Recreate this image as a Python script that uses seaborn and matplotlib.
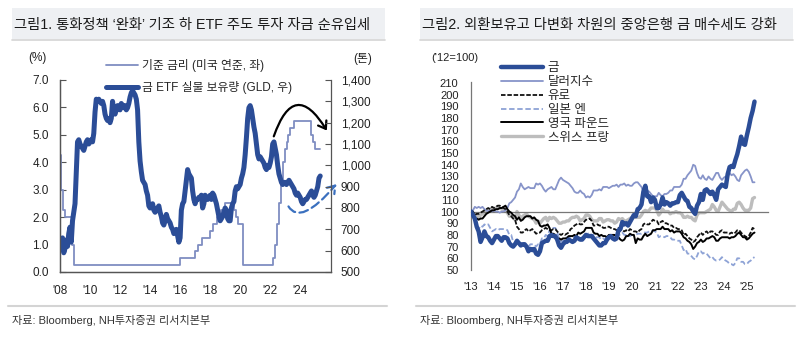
import numpy as np
import pandas as pd
import matplotlib
matplotlib.use("Agg")
import matplotlib.pyplot as plt
import seaborn as sns
from matplotlib.patches import FancyArrowPatch, Rectangle
from matplotlib.lines import Line2D
from matplotlib.ticker import FuncFormatter

sns.set_style("white")
plt.rcParams["font.family"] = ["Liberation Sans", "Noto Sans CJK KR", "DejaVu Sans"]

# ---------------- data: chart 1 ----------------
fed_dates = [2008.0, 2008.06, 2008.08, 2008.21, 2008.33, 2008.77, 2008.83, 2008.96,
             2015.96, 2016.96, 2017.21, 2017.46, 2017.96, 2018.21, 2018.46, 2018.74,
             2018.96, 2019.58, 2019.71, 2019.83, 2020.17, 2020.21, 2022.21, 2022.34,
             2022.46, 2022.57, 2022.72, 2022.84, 2022.96, 2023.09, 2023.21, 2023.34,
             2023.57, 2024.72, 2024.85, 2024.96, 2025.33]
fed_rate = [4.25, 3.5, 3.0, 2.25, 2.0, 1.5, 1.0, 0.25,
            0.5, 0.75, 1.0, 1.25, 1.5, 1.75, 2.0, 2.25,
            2.5, 2.25, 2.0, 1.75, 1.25, 0.25, 0.5, 1.0,
            1.75, 2.5, 3.25, 4.0, 4.5, 4.75, 5.0, 5.25,
            5.5, 5.0, 4.75, 4.5, 4.5]

gld_tonnes = [
    640, 610, 660, 590, 610, 650, 620, 680, 710, 640, 740, 780,        # 2008
    820, 960, 1110, 1120, 1100, 1090, 1080, 1070, 1090, 1110, 1120, 1100,  # 2009
    1110, 1120, 1110, 1150, 1250, 1310, 1300, 1310, 1300, 1290, 1300, 1280,  # 2010
    1240, 1220, 1210, 1220, 1200, 1220, 1300, 1250, 1240, 1260, 1280, 1270,  # 2011
    1260, 1290, 1280, 1270, 1280, 1260, 1270, 1290, 1320, 1340, 1350, 1340,  # 2012
    1330, 1310, 1260, 1110, 1020, 970, 930, 920, 910, 880, 860, 810,   # 2013
    800, 810, 820, 790, 780, 790, 800, 810, 780, 760, 730, 720,        # 2014
    740, 770, 750, 740, 730, 710, 700, 680, 690, 700, 670, 640,        # 2015
    660, 790, 820, 830, 880, 930, 980, 960, 950, 940, 880, 840,        # 2016
    820, 840, 840, 850, 850, 860, 800, 820, 860, 850, 840, 850,        # 2017
    860, 840, 870, 860, 840, 820, 790, 760, 740, 750, 760, 780,        # 2018
    800, 790, 750, 740, 740, 800, 820, 830, 880, 900, 890, 900,        # 2019
    910, 940, 960, 990, 1050, 1130, 1220, 1270, 1280, 1260, 1220, 1180,  # 2020
    1150, 1100, 1050, 1030, 1040, 1030, 1020, 1010, 990, 980, 1000, 990,  # 2021
    1010, 1040, 1100, 1110, 1080, 1050, 1000, 960, 940, 920, 910, 920,   # 2022
    920, 910, 920, 930, 920, 910, 900, 890, 870, 860, 870, 860,        # 2023
    850, 830, 820, 830, 840, 840, 850, 860, 870, 880, 860, 850,        # 2024
    860, 880, 900, 940, 950,                                           # 2025
]
gld_years = 2008 + np.arange(len(gld_tonnes)) / 12

c1_xticks = [2008, 2010, 2012, 2014, 2016, 2018, 2020, 2022, 2024]
c1_xlabels = ["'08", "'10", "'12", "'14", "'16", "'18", "'20", "'22", "'24"]
c1_label_rate = "기준 금리 (미국 연준, 좌)"
c1_label_gld = "금 ETF 실물 보유량 (GLD, 우)"

# ---------------- data: chart 2 ('12=100) ----------------
idx_gold = [
    100, 97, 94, 87, 83, 74, 78, 83, 79, 78, 75, 73,
    76, 79, 79, 77, 75, 78, 78, 77, 73, 71, 70, 72,
    75, 73, 71, 72, 72, 70, 66, 68, 67, 68, 64, 63,
    66, 73, 74, 75, 75, 79, 80, 79, 79, 76, 71, 69,
    72, 74, 74, 76, 75, 74, 75, 78, 77, 76, 76, 78,
    80, 79, 79, 79, 77, 75, 73, 71, 71, 73, 73, 76,
    78, 79, 77, 76, 77, 84, 85, 91, 89, 90, 88, 91,
    94, 97, 96, 102, 103, 106, 117, 122, 113, 113, 108, 112,
    110, 103, 103, 106, 112, 106, 108, 107, 105, 107, 107, 108,
    108, 114, 116, 113, 110, 109, 104, 103, 100, 98, 105, 108,
    115, 110, 118, 119, 117, 115, 117, 114, 110, 119, 121, 123,
    122, 121, 132, 138, 139, 138, 144, 149, 156, 164, 158, 157,
    165, 172, 180, 186, 194,
]
idx_dollar = [
    100, 101, 104, 103, 104, 103, 104, 102, 101, 100, 101, 100,
    101, 100, 100, 99, 100, 100, 101, 103, 107, 108, 110, 112,
    117, 119, 124, 121, 119, 120, 121, 120, 120, 120, 124, 123,
    124, 122, 119, 117, 119, 120, 121, 119, 119, 123, 127, 129,
    127, 126, 125, 124, 122, 120, 117, 116, 116, 118, 116, 115,
    112, 113, 112, 114, 118, 118, 118, 119, 118, 121, 121, 121,
    120, 121, 122, 122, 123, 121, 123, 123, 124, 122, 123, 122,
    122, 124, 125, 125, 123, 121, 117, 116, 118, 117, 115, 113,
    113, 113, 116, 114, 113, 115, 115, 116, 118, 118, 121, 121,
    121, 121, 123, 128, 128, 131, 133, 135, 140, 139, 133, 129,
    128, 131, 128, 127, 130, 128, 127, 130, 133, 133, 129, 127,
    129, 130, 130, 133, 131, 132, 130, 127, 126, 131, 133, 135,
    136, 134, 130, 125, 125,
]
idx_euro = [
    100, 100, 97, 98, 98, 99, 100, 101, 102, 103, 102, 104,
    103, 104, 105, 105, 104, 103, 102, 100, 97, 96, 94, 93,
    87, 85, 82, 82, 84, 85, 83, 84, 85, 83, 81, 82,
    82, 84, 85, 86, 85, 84, 84, 85, 85, 83, 81, 80,
    81, 80, 81, 82, 85, 86, 88, 89, 90, 89, 89, 91,
    93, 93, 94, 92, 88, 88, 89, 88, 88, 86, 86, 87,
    87, 86, 85, 85, 84, 86, 84, 84, 83, 84, 83, 85,
    84, 83, 83, 82, 84, 85, 89, 90, 89, 89, 91, 93,
    92, 92, 89, 91, 92, 90, 90, 89, 88, 88, 86, 86,
    85, 85, 84, 80, 81, 79, 77, 76, 74, 75, 78, 80,
    82, 80, 82, 83, 81, 83, 83, 82, 80, 80, 83, 84,
    82, 82, 82, 81, 82, 81, 82, 84, 84, 82, 80, 79,
    78, 79, 82, 86, 85,
]
idx_yen = [
    100, 94, 92, 88, 85, 88, 87, 89, 88, 89, 86, 83,
    84, 85, 84, 85, 85, 85, 85, 84, 80, 80, 74, 73,
    73, 73, 72, 72, 70, 70, 70, 72, 72, 72, 70, 72,
    72, 77, 77, 80, 79, 84, 83, 86, 86, 83, 76, 74,
    76, 77, 78, 78, 78, 77, 78, 79, 77, 76, 78, 77,
    80, 81, 82, 79, 80, 78, 78, 78, 76, 77, 76, 79,
    79, 78, 78, 78, 80, 80, 80, 82, 80, 80, 79, 79,
    80, 80, 80, 81, 81, 81, 82, 82, 82, 83, 83, 84,
    83, 82, 78, 79, 79, 78, 79, 79, 78, 76, 76, 75,
    75, 75, 71, 67, 68, 64, 64, 62, 60, 59, 62, 66,
    66, 64, 65, 64, 62, 60, 61, 59, 58, 58, 59, 61,
    59, 58, 57, 55, 55, 54, 56, 60, 60, 57, 57, 55,
    55, 57, 58, 60, 61,
]
idx_pound = [
    100, 96, 93, 94, 93, 94, 94, 96, 98, 99, 100, 101,
    101, 102, 102, 103, 103, 104, 105, 102, 100, 99, 97, 96,
    93, 95, 92, 93, 95, 96, 96, 96, 94, 95, 93, 92,
    88, 87, 88, 88, 89, 86, 81, 81, 80, 75, 77, 76,
    77, 77, 77, 79, 79, 79, 80, 79, 82, 81, 82, 83,
    86, 86, 86, 86, 82, 81, 81, 79, 80, 79, 79, 78,
    80, 80, 80, 80, 78, 78, 76, 75, 76, 79, 79, 81,
    80, 80, 73, 77, 76, 76, 79, 81, 79, 80, 81, 84,
    84, 85, 85, 85, 87, 85, 85, 85, 83, 84, 82, 83,
    83, 83, 81, 78, 77, 75, 74, 72, 68, 70, 73, 74,
    76, 74, 75, 77, 77, 78, 79, 78, 75, 75, 77, 78,
    78, 78, 78, 77, 78, 78, 79, 81, 82, 80, 78, 78,
    76, 77, 79, 81, 82,
]
idx_franc = [
    100, 98, 96, 98, 95, 97, 98, 99, 101, 101, 101, 103,
    102, 103, 104, 103, 102, 102, 101, 99, 96, 96, 95, 93,
    100, 97, 94, 96, 97, 98, 96, 95, 94, 93, 90, 92,
    90, 92, 94, 95, 92, 95, 94, 95, 94, 92, 90, 90,
    91, 91, 92, 92, 94, 95, 95, 96, 95, 92, 93, 94,
    97, 97, 96, 93, 92, 92, 92, 94, 94, 91, 92, 93,
    93, 92, 92, 90, 91, 94, 93, 94, 92, 92, 93, 94,
    95, 95, 95, 95, 95, 97, 100, 101, 100, 101, 103, 103,
    103, 101, 97, 99, 102, 100, 100, 100, 98, 99, 99, 100,
    99, 99, 98, 95, 95, 96, 95, 95, 93, 92, 97, 99,
    99, 99, 99, 100, 101, 102, 106, 104, 101, 100, 104, 108,
    106, 104, 102, 101, 100, 102, 102, 107, 108, 106, 103, 101,
    101, 101, 103, 111, 112,
]
idx_years = 2013 + np.arange(len(idx_gold)) / 12
c2_names = ["금", "달러지수", "유로", "일본 엔", "영국 파운드", "스위스 프랑"]
c2_xticks = list(range(2013, 2026))
c2_xlabels = ["'%02d" % (y - 2000) for y in c2_xticks]
c2_yticks = list(range(50, 211, 10))

title1 = "그림1. 통화정책 ‘완화’ 기조 하 ETF 주도 투자 자금 순유입세"
title2 = "그림2. 외환보유고 다변화 차원의 중앙은행 금 매수세도 강화"
source = "자료: Bloomberg, NH투자증권 리서치본부"

# ---------------- figure ----------------
W, H = 800, 338
fig = plt.figure(figsize=(W / 100, H / 100), dpi=100)
fig.patch.set_facecolor("white")


def fx(x):
    return x / W


def fy(y):
    return 1 - y / H


# title bands & footers
for x0, x1, t in [(12, 385, title1), (420, 793, title2)]:
    fig.add_artist(Rectangle((fx(x0), fy(39)), fx(x1 - x0), 31 / H,
                             transform=fig.transFigure, facecolor="#eef0f3",
                             edgecolor="none", zorder=0))
    fig.add_artist(Line2D([fx(x0), fx(x1)], [fy(39.5)] * 2, color="#d4d4d4", lw=1.2))
    fig.text(fx(x0 + 2), fy(25), t, fontsize=10.3, va="center", ha="left", color="#1a1a1a")
    fig.add_artist(Line2D([fx(x0 - 4), fx(x1 + 2)], [fy(306)] * 2, color="#d4d4d4", lw=1.5))
    fig.text(fx(x0), fy(321), source, fontsize=8, va="center", ha="left", color="#333333")

DARK = "#2b4d97"
LIGHT = "#7f8ec2"
SPINE = "#555555"

# ---------- chart 1 ----------
ax1 = fig.add_axes([fx(60), fy(272), fx(271), 192 / H])
ax1r = ax1.twinx()
df_rate = pd.DataFrame({"year": fed_dates, "rate": fed_rate})
df_gld = pd.DataFrame({"year": gld_years, "tonnes": gld_tonnes})
sns.lineplot(data=df_rate, x="year", y="rate", ax=ax1, color=LIGHT, lw=1.3,
             drawstyle="steps-post", label=c1_label_rate, legend=False)
sns.lineplot(data=df_gld, x="year", y="tonnes", ax=ax1r, color=DARK, lw=3.6,
             label=c1_label_gld, legend=False)
ax1.set_xlim(2008, 2026.05)
ax1.set_ylim(0, 7)
ax1r.set_ylim(500, 1400)
ax1.set_yticks(np.arange(0, 7.01, 1))
ax1.yaxis.set_major_formatter(FuncFormatter(lambda v, p: "%.1f" % v))
ax1r.set_yticks(np.arange(500, 1401, 100))
ax1r.yaxis.set_major_formatter(FuncFormatter(lambda v, p: "{:,.0f}".format(v)))
ax1.set_xticks(c1_xticks)
ax1.set_xticklabels(c1_xlabels)
for a in (ax1, ax1r):
    a.set_xlabel("")
    a.set_ylabel("")
    a.spines["top"].set_visible(False)
    for s in a.spines.values():
        s.set_color(SPINE)
        s.set_linewidth(0.9)
ax1.spines["right"].set_visible(False)
ax1.tick_params(axis="both", direction="in", length=4, width=0.8, color=SPINE,
                labelsize=8.5, labelcolor="#222222")
ax1.tick_params(axis="y", pad=8)
ax1.tick_params(axis="x", pad=9)
ax1r.tick_params(axis="y", direction="in", length=4, width=0.8, color=SPINE,
                 labelsize=8.5, labelcolor="#222222", pad=7)
fig.text(fx(37), fy(58), "(%)", fontsize=8.5, ha="center", va="center", color="#222222")
fig.text(fx(363), fy(59), "(톤)", fontsize=8.5, ha="center", va="center", color="#222222")

h1 = ax1.get_lines()[0]
h2 = ax1r.get_lines()[0]
fig.legend([h1, h2], [c1_label_rate, c1_label_gld], loc="upper left",
           bbox_to_anchor=(fx(100), fy(53)), frameon=False, fontsize=8.5,
           handlelength=2.7, handletextpad=0.4, labelspacing=0.75, borderpad=0)

# annotation arrows
arr1 = FancyArrowPatch((2022.18, 4.85), (2025.87, 5.07), transform=ax1.transData,
                       connectionstyle="arc3,rad=-1.1", arrowstyle="->,head_length=5,head_width=3.5",
                       color="black", lw=1.6, clip_on=False, zorder=5)
ax1.add_patch(arr1)
arr2 = FancyArrowPatch((2023.13, 2.48), (2026.53, 3.28), transform=ax1.transData,
                       connectionstyle="angle3,angleA=-65,angleB=50",
                       arrowstyle="->,head_length=5,head_width=3.5",
                       color="#3b70bf", lw=1.6, ls=(0, (4, 2)), clip_on=False, zorder=5)
ax1.add_patch(arr2)

# ---------- chart 2 ----------
ax2 = fig.add_axes([fx(471), fy(270), fx(297), 188.3 / H])
df2 = pd.DataFrame({"year": idx_years, c2_names[0]: idx_gold, c2_names[1]: idx_dollar,
                    c2_names[2]: idx_euro, c2_names[3]: idx_yen,
                    c2_names[4]: idx_pound, c2_names[5]: idx_franc})
styles = {
    c2_names[0]: dict(color=DARK, lw=3.2, ls="-", z=6),
    c2_names[1]: dict(color="#8794c9", lw=1.3, ls="-", z=3),
    c2_names[2]: dict(color="#111111", lw=1.3, ls=(0, (2.5, 1)), z=4),
    c2_names[3]: dict(color="#8ea3d6", lw=1.3, ls=(0, (3, 1.5)), z=3),
    c2_names[4]: dict(color="#000000", lw=1.4, ls="-", z=4),
    c2_names[5]: dict(color="#bdbdbd", lw=2.4, ls="-", z=2),
}
for name in c2_names:
    st = styles[name]
    sns.lineplot(data=df2, x="year", y=name, ax=ax2, color=st["color"], lw=st["lw"],
                 linestyle=st["ls"], label=name, legend=False, zorder=st["z"])
ax2.set_xlim(2013, 2025.92)
ax2.set_ylim(50, 211)
ax2.set_yticks(c2_yticks)
ax2.set_xlabel("")
ax2.set_ylabel("")
for s in ["top", "right"]:
    ax2.spines[s].set_visible(False)
ax2.spines["bottom"].set_position(("data", 100))
for s in ["left", "bottom"]:
    ax2.spines[s].set_color("#777777")
    ax2.spines[s].set_linewidth(0.9)
ax2.set_xticks(c2_xticks)
ax2.tick_params(axis="x", direction="in", length=4, width=0.8, color="#777777",
                labelbottom=False)
ax2.tick_params(axis="y", direction="in", length=4, width=0.8, color="#777777",
                labelsize=8, labelcolor="#222222", pad=9)
sec = ax2.secondary_xaxis(0)
sec.set_xticks(c2_xticks)
sec.set_xticklabels(c2_xlabels)
sec.spines["bottom"].set_visible(False)
sec.tick_params(axis="x", length=0, labelsize=8, labelcolor="#222222", pad=9)
fig.text(fx(455), fy(58), "('12=100)", fontsize=8, ha="center", va="center", color="#222222")

ax2.legend(loc="upper left", bbox_to_anchor=(fx(495), fy(56)), bbox_transform=fig.transFigure,
           frameon=False, fontsize=9, handlelength=3.3, handletextpad=0.4,
           labelspacing=0.15, borderpad=0)

fig.savefig("out.png", dpi=100, facecolor="white")
